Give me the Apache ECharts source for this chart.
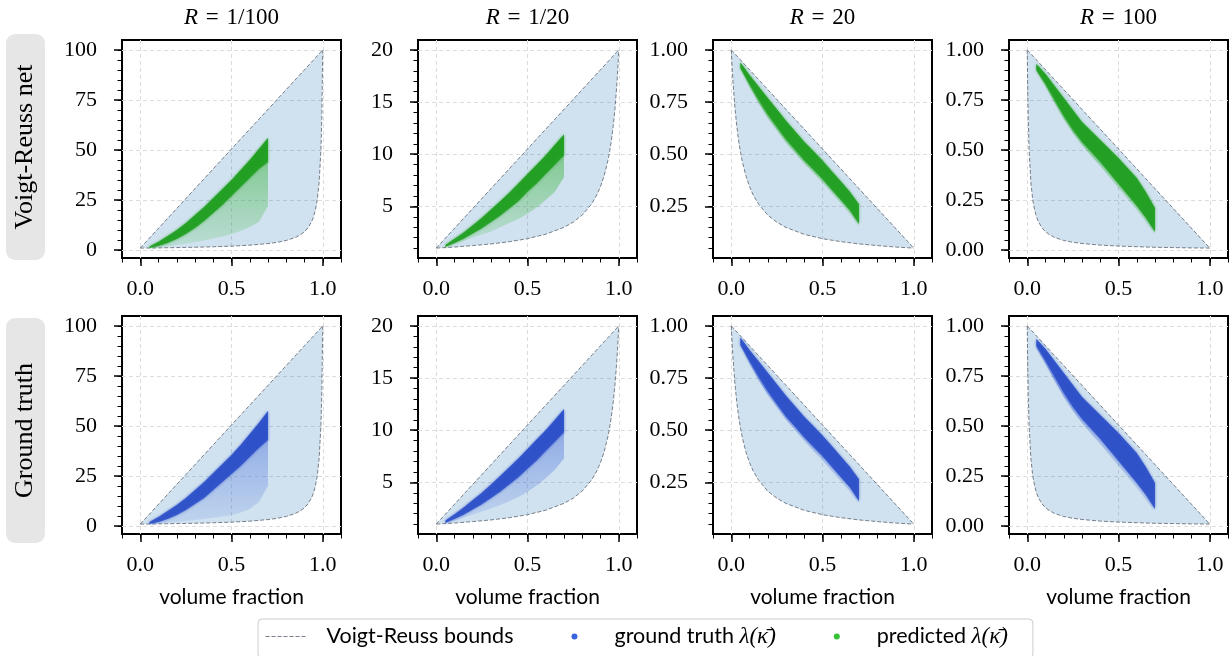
<!DOCTYPE html>
<html>
<head>
<meta charset="utf-8">
<script src="https://cdn.jsdelivr.net/npm/echarts@6.0.0/dist/echarts.min.js"></script>
<style>
  html, body { margin: 0; padding: 0; background: #fff; }
  #chart { width: 1230px; height: 656px; }
</style>
</head>
<body>
<div id="chart"></div>
<script>
// ---------------- data ----------------
const titles = ['1/100', '1/20', '20', '100'];
const rowLabels = ['Voigt-Reuss net', 'Ground truth'];

const xTicks = [0, 0.5, 1.0];
const xMinor = [-0.1, 0, 0.1, 0.2, 0.3, 0.4, 0.5, 0.6, 0.7, 0.8, 0.9, 1.0, 1.1];
const yTicks1 = [0, 25, 50, 75, 100];
const yTicks2 = [5, 10, 15, 20];
const yTicks3 = [0.25, 0.5, 0.75, 1.0];
const yTicks4 = [0, 0.25, 0.5, 0.75, 1.0];

// Voigt (upper) bound, straight line between the end points
const voigtX = [0, 1];
const voigt1 = [1, 100];
const voigt2 = [1, 20];
const voigt3 = [1, 0.05];
const voigt4 = [1, 0.01];

// Reuss (lower) bound
const reussXa = [0, 0.1, 0.2, 0.3, 0.4, 0.5, 0.6, 0.7, 0.75, 0.8, 0.85, 0.88, 0.9, 0.92, 0.94, 0.95, 0.96, 0.97, 0.98, 0.99, 0.995, 1.0];
const reuss1 = [1, 1.11, 1.25, 1.42, 1.66, 1.98, 2.46, 3.26, 3.88, 4.81, 6.31, 7.76, 9.17, 11.2, 14.4, 16.8, 20.2, 25.2, 33.6, 50.3, 66.9, 100];
const reuss2 = [1, 1.10, 1.24, 1.40, 1.61, 1.90, 2.33, 2.99, 3.48, 4.17, 5.20, 6.10, 6.90, 7.94, 9.35, 10.26, 11.36, 12.74, 14.49, 16.81, 18.26, 20];
const reussXb = [0, 0.0025, 0.005, 0.01, 0.02, 0.03, 0.04, 0.05, 0.06, 0.08, 0.1, 0.12, 0.15, 0.2, 0.25, 0.3, 0.4, 0.5, 0.6, 0.7, 0.8, 0.9, 1.0];
const reuss3 = [1, 0.955, 0.913, 0.840, 0.725, 0.637, 0.568, 0.513, 0.467, 0.397, 0.345, 0.305, 0.260, 0.208, 0.174, 0.149, 0.116, 0.095, 0.081, 0.070, 0.062, 0.055, 0.05];
const reuss4 = [1, 0.802, 0.669, 0.503, 0.336, 0.252, 0.202, 0.168, 0.144, 0.112, 0.092, 0.078, 0.063, 0.048, 0.039, 0.033, 0.025, 0.020, 0.017, 0.014, 0.0125, 0.011, 0.01];

// point clouds: upper edge, lower edge of the dense part, lower edge of the sparse part
const cloudX = [0.05, 0.1, 0.15, 0.2, 0.25, 0.3, 0.35, 0.4, 0.45, 0.5, 0.55, 0.6, 0.65, 0.7];

const pred1Hi   = [1.8, 4.2, 7.0, 10.0, 13.5, 17.5, 21.5, 26.0, 30.5, 35.0, 40.0, 45.0, 50.5, 56.0];
const pred1Core = [1.0, 2.0, 3.5, 5.5, 8.0, 11.0, 14.5, 18.5, 22.5, 27.0, 31.5, 36.0, 40.5, 44.0];
const pred1Lo   = [1.0, 1.4, 1.9, 2.5, 3.2, 4.0, 4.8, 5.8, 6.8, 8.0, 9.5, 11.5, 14.0, 22.0];

const pred2Hi   = [1.3, 1.9, 2.5, 3.2, 3.9, 4.7, 5.5, 6.3, 7.2, 8.1, 9.0, 9.9, 10.9, 11.9];
const pred2Core = [1.1, 1.5, 1.9, 2.4, 2.9, 3.5, 4.1, 4.8, 5.5, 6.4, 7.2, 8.1, 9.0, 9.9];
const pred2Lo   = [1.1, 1.4, 1.7, 2.0, 2.3, 2.6, 3.0, 3.4, 3.8, 4.3, 4.9, 5.6, 6.4, 7.8];

const pred3Hi   = [0.94, 0.88, 0.825, 0.77, 0.715, 0.66, 0.61, 0.56, 0.515, 0.47, 0.42, 0.37, 0.32, 0.26];
const pred3Core = [0.915, 0.835, 0.76, 0.69, 0.63, 0.57, 0.52, 0.47, 0.425, 0.38, 0.33, 0.28, 0.23, 0.165];
const pred3Lo   = [0.91, 0.825, 0.745, 0.675, 0.615, 0.555, 0.505, 0.455, 0.41, 0.365, 0.315, 0.265, 0.215, 0.155];

const pred4Hi   = [0.93, 0.88, 0.82, 0.76, 0.70, 0.64, 0.595, 0.55, 0.505, 0.46, 0.41, 0.36, 0.29, 0.21];
const pred4Core = [0.90, 0.83, 0.75, 0.67, 0.60, 0.54, 0.49, 0.44, 0.385, 0.33, 0.275, 0.22, 0.16, 0.09];
const pred4Lo   = [0.895, 0.82, 0.735, 0.655, 0.585, 0.525, 0.47, 0.42, 0.365, 0.31, 0.255, 0.20, 0.14, 0.08];

const true1Hi   = [2.0, 4.5, 7.5, 10.5, 14.0, 18.0, 22.0, 26.5, 31.0, 35.5, 40.5, 46.0, 51.5, 57.5];
const true1Core = [1.0, 2.0, 3.5, 5.5, 8.0, 11.0, 14.0, 18.0, 22.0, 26.0, 30.0, 34.5, 39.0, 43.0];
const true1Lo   = [1.0, 1.3, 1.7, 2.1, 2.6, 3.1, 3.6, 4.2, 4.8, 5.6, 6.8, 8.5, 12.0, 20.0];

const true2Hi   = [1.35, 1.95, 2.6, 3.3, 4.0, 4.8, 5.6, 6.45, 7.3, 8.2, 9.1, 10.0, 11.0, 12.0];
const true2Core = [1.1, 1.5, 1.9, 2.4, 2.9, 3.5, 4.1, 4.8, 5.5, 6.3, 7.1, 8.0, 8.9, 9.8];
const true2Lo   = [1.1, 1.3, 1.6, 1.9, 2.2, 2.5, 2.8, 3.2, 3.6, 4.1, 4.7, 5.4, 6.2, 7.3];

const true3Hi   = [0.945, 0.885, 0.83, 0.775, 0.72, 0.665, 0.615, 0.565, 0.52, 0.475, 0.425, 0.375, 0.325, 0.265];
const true3Core = [0.91, 0.83, 0.755, 0.685, 0.625, 0.565, 0.515, 0.465, 0.42, 0.375, 0.325, 0.275, 0.225, 0.16];
const true3Lo   = [0.905, 0.82, 0.74, 0.67, 0.61, 0.55, 0.50, 0.45, 0.40, 0.355, 0.305, 0.255, 0.205, 0.15];

const true4Hi   = [0.935, 0.885, 0.825, 0.765, 0.705, 0.645, 0.60, 0.555, 0.51, 0.465, 0.415, 0.365, 0.295, 0.215];
const true4Core = [0.90, 0.825, 0.745, 0.665, 0.595, 0.535, 0.485, 0.435, 0.38, 0.325, 0.27, 0.215, 0.155, 0.085];
const true4Lo   = [0.89, 0.81, 0.725, 0.645, 0.575, 0.515, 0.46, 0.41, 0.355, 0.30, 0.245, 0.19, 0.13, 0.075];

// ---------------- layout ----------------
const colLeft = [122, 418, 713, 1009];
const rowTop = [40, 316];
const boxW = 219, boxH = 218;

const xRange = [-0.1, 1.1];
const yAxes = [
  { range: [-3.95, 104.95], ticks: yTicks1, step: 25, minor: 5, dec: 0 },
  { range: [0.05, 20.95], ticks: yTicks2, step: 5, minor: 1, dec: 0 },
  { range: [0.0025, 1.0475], ticks: yTicks3, step: 0.25, minor: 0.05, dec: 2 },
  { range: [-0.0395, 1.0495], ticks: yTicks4, step: 0.25, minor: 0.05, dec: 2 }
];
const bounds = [
  { rx: reussXa, ry: reuss1, vy: voigt1 },
  { rx: reussXa, ry: reuss2, vy: voigt2 },
  { rx: reussXb, ry: reuss3, vy: voigt3 },
  { rx: reussXb, ry: reuss4, vy: voigt4 }
];
const clouds = [
  [[pred1Hi, pred1Core, pred1Lo], [pred2Hi, pred2Core, pred2Lo], [pred3Hi, pred3Core, pred3Lo], [pred4Hi, pred4Core, pred4Lo]],
  [[true1Hi, true1Core, true1Lo], [true2Hi, true2Core, true2Lo], [true3Hi, true3Core, true3Lo], [true4Hi, true4Core, true4Lo]]
];
const cloudColors = [
  { name: 'predicted', core: 'rgba(30,158,30,0.85)', haloTop: 'rgba(40,170,40,0.55)', haloBot: 'rgba(60,185,60,0.14)', legend: '#36c236' },
  { name: 'ground truth', core: 'rgba(42,78,200,0.85)', haloTop: 'rgba(55,95,215,0.5)', haloBot: 'rgba(70,110,225,0.12)', legend: '#3a63e0' }
];

const SERIF = 'Liberation Serif';
const SANS = 'Lato';

function minorList(lo, hi, step) {
  const out = [];
  const start = Math.ceil(lo / step - 1e-9);
  for (let k = start; k * step <= hi + 1e-9; k++) out.push(+(k * step).toFixed(4));
  return out;
}

function bandRender(xs, upper, lower, fill, blur) {
  return function (params, api) {
    const pts = [];
    for (let k = 0; k < xs.length; k++) pts.push(api.coord([xs[k], upper[k]]));
    for (let k = xs.length - 1; k >= 0; k--) pts.push(api.coord([xs[k], lower[k]]));
    return {
      type: 'polygon', shape: { points: pts },
      style: { fill: fill, shadowBlur: blur, shadowColor: typeof fill === 'string' ? fill : 'rgba(0,0,0,0)' }
    };
  };
}

function regionRender(rx, ry, vx, vy, fill) {
  return function (params, api) {
    const pts = [];
    for (let k = 0; k < rx.length; k++) pts.push(api.coord([rx[k], ry[k]]));
    for (let k = vx.length - 1; k >= 0; k--) pts.push(api.coord([vx[k], vy[k]]));
    return { type: 'polygon', shape: { points: pts }, style: { fill: fill } };
  };
}

const grid = [], xAxis = [], yAxis = [], series = [], graphic = [];
const tickLabelStyle = { fontFamily: SERIF, fontSize: 22, color: '#000' };
const boundColor = 'rgba(105,114,126,0.9)';
const boundLine = { color: boundColor, width: 1, type: [4, 2] };

for (let r = 0; r < 2; r++) {
  for (let c = 0; c < 4; c++) {
    const g = r * 4 + c;
    const ya = yAxes[c];
    grid.push({
      left: colLeft[c], top: rowTop[r], width: boxW, height: boxH,
      show: true, borderColor: '#000', borderWidth: 2, backgroundColor: 'transparent',
      outerBoundsMode: 'none'
    });
    // major x axis
    xAxis.push({
      gridIndex: g, type: 'value', position: 'bottom', min: xRange[0], max: xRange[1],
      minInterval: 0.5, maxInterval: 0.5,
      axisLine: { show: false, onZero: false },
      axisTick: { show: true, customValues: xTicks, length: 8, lineStyle: { color: '#000', width: 1.5 } },
      axisLabel: { customValues: xTicks, formatter: v => v.toFixed(1), margin: 20, ...tickLabelStyle },
      splitLine: { show: true, lineStyle: { color: '#dcdcdc', width: 1, type: [4, 3] } },
      name: r === 1 ? 'volume fraction' : '', nameLocation: 'middle', nameGap: 53,
      nameTextStyle: { fontFamily: SANS, fontSize: 21, color: '#000' }
    });
    // minor x axis
    xAxis.push({
      gridIndex: g, type: 'value', position: 'bottom', min: xRange[0], max: xRange[1],
      axisLine: { show: false, onZero: false },
      axisTick: { show: true, customValues: xMinor, length: 4.5, lineStyle: { color: '#000', width: 1 } },
      axisLabel: { show: false }, splitLine: { show: false }
    });
    // major y axis
    yAxis.push({
      gridIndex: g, type: 'value', position: 'left', min: ya.range[0], max: ya.range[1],
      minInterval: ya.step, maxInterval: ya.step,
      axisLine: { show: false, onZero: false },
      axisTick: { show: true, customValues: ya.ticks, length: 8, lineStyle: { color: '#000', width: 1.5 } },
      axisLabel: { customValues: ya.ticks, formatter: v => v.toFixed(ya.dec), margin: 25, ...tickLabelStyle },
      splitLine: { show: true, lineStyle: { color: '#dcdcdc', width: 1, type: [4, 3] } }
    });
    // minor y axis
    yAxis.push({
      gridIndex: g, type: 'value', position: 'left', min: ya.range[0], max: ya.range[1],
      axisLine: { show: false, onZero: false },
      axisTick: { show: true, customValues: minorList(ya.range[0], ya.range[1], ya.minor), length: 4.5, lineStyle: { color: '#000', width: 1 } },
      axisLabel: { show: false }, splitLine: { show: false }
    });

    const xi = g * 2, yi = g * 2;
    const b = bounds[c];
    series.push({
      type: 'custom', xAxisIndex: xi, yAxisIndex: yi, silent: true, z: 1,
      data: [[0.5, b.vy[0]]],
      renderItem: regionRender(b.rx, b.ry, voigtX, b.vy, 'rgba(31,119,180,0.21)')
    });
    series.push({
      type: 'line', name: 'Voigt-Reuss bounds', xAxisIndex: xi, yAxisIndex: yi, z: 3,
      symbol: 'none', silent: true, lineStyle: boundLine,
      data: voigtX.map((x, k) => [x, b.vy[k]])
    });
    series.push({
      type: 'line', name: 'Voigt-Reuss bounds', xAxisIndex: xi, yAxisIndex: yi, z: 3,
      symbol: 'none', silent: true, lineStyle: boundLine,
      data: b.rx.map((x, k) => [x, b.ry[k]])
    });
    const cl = clouds[r][c];
    const col = cloudColors[r];
    const haloFill = new echarts.graphic.LinearGradient(0, 0, 0, 1, [
      { offset: 0, color: col.haloTop }, { offset: 1, color: col.haloBot }
    ]);
    series.push({
      type: 'custom', name: col.name, xAxisIndex: xi, yAxisIndex: yi, silent: true, z: 4,
      itemStyle: { color: col.legend },
      data: [[cloudX[0], cl[0][0]]],
      renderItem: bandRender(cloudX, cl[0], cl[2], haloFill, 0)
    });
    series.push({
      type: 'custom', name: col.name, xAxisIndex: xi, yAxisIndex: yi, silent: true, z: 5,
      itemStyle: { color: col.legend },
      data: [[cloudX[0], cl[0][0]]],
      renderItem: bandRender(cloudX, cl[0], cl[1], col.core, 3)
    });
  }
}

// titles
for (let c = 0; c < 4; c++) {
  graphic.push({
    type: 'text', x: colLeft[c] + boxW / 2, y: 18,
    style: {
      text: '{i|R}\u2004=\u2004' + titles[c], fontFamily: SERIF, fontSize: 23, fill: '#000',
      align: 'center', verticalAlign: 'middle',
      rich: { i: { fontFamily: SERIF, fontStyle: 'italic', fontSize: 23 } }
    }
  });
}
// row labels
const rowBox = [[6, 34, 39, 226], [6, 318, 39, 225]];
for (let r = 0; r < 2; r++) {
  const bx = rowBox[r];
  graphic.push({
    type: 'rect', shape: { x: bx[0], y: bx[1], width: bx[2], height: bx[3], r: 9 },
    style: { fill: '#e6e6e6' }
  });
  graphic.push({
    type: 'text', x: bx[0] + bx[2] / 2, y: bx[1] + bx[3] / 2, rotation: Math.PI / 2,
    style: { text: rowLabels[r], fontFamily: SERIF, fontSize: 26, fill: '#000', align: 'center', verticalAlign: 'middle' }
  });
}

const option = {
  animation: false,
  backgroundColor: '#fff',
  grid: grid, xAxis: xAxis, yAxis: yAxis, series: series, graphic: graphic,
  legend: {
    left: 258, top: 619, orient: 'horizontal',
    padding: [6, 25, 10, 7], itemGap: 58, itemWidth: 42, itemHeight: 6,
    borderColor: '#cccccc', borderWidth: 1, borderRadius: 4, backgroundColor: '#fff',
    selectedMode: false,
    data: [
      { name: 'Voigt-Reuss bounds', itemStyle: { color: 'rgba(0,0,0,0)', borderWidth: 0 },
        lineStyle: { color: boundColor, width: 1, type: [4, 2] } },
      { name: 'ground truth', icon: 'circle', itemStyle: { color: cloudColors[1].legend } },
      { name: 'predicted', icon: 'circle', itemStyle: { color: cloudColors[0].legend } }
    ],
    formatter: n => n === 'Voigt-Reuss bounds' ? n : n + ' {m|\u03BB(\u03BA\u0304)}',
    textStyle: {
      fontFamily: SANS, fontSize: 21.5, color: '#000', padding: [0, 0, 0, 14],
      rich: { m: { fontFamily: SERIF, fontStyle: 'italic', fontSize: 23, color: '#000' } }
    }
  }
};

const chart = echarts.init(document.getElementById('chart'), null, { renderer: 'canvas' });
chart.setOption(option);
</script>
</body>
</html>
